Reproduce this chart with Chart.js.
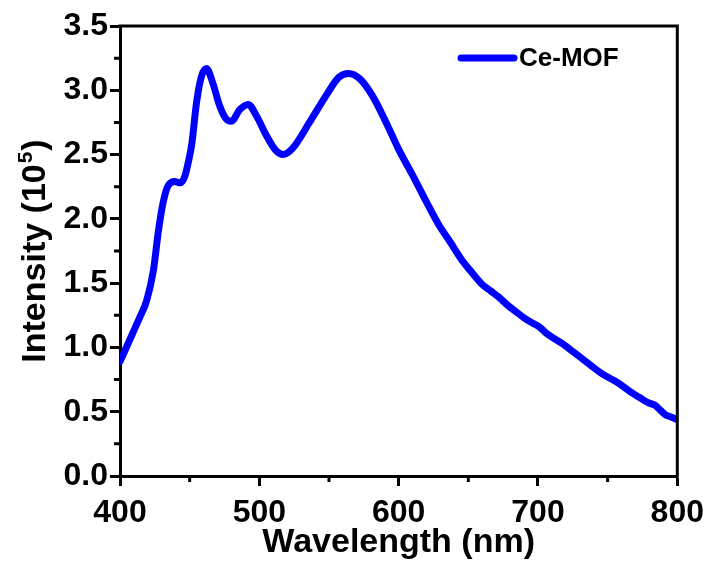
<!DOCTYPE html>
<html>
<head>
<meta charset="utf-8">
<script src="https://cdn.jsdelivr.net/npm/chart.js@4.4.1/dist/chart.umd.min.js"></script>
<style>
  html, body { margin: 0; padding: 0; background: #fff; }
  #c { display: block; }
</style>
</head>
<body>
<canvas id="c" width="712" height="561"></canvas>
<script>
// ---- data ----
const seriesLabel = 'Ce-MOF';
const wavelength = [400, 409.5, 414, 419, 424, 427.5, 431, 434.6, 439.4, 443, 446.5, 449, 451.5, 455, 458.5, 462, 466.5, 471.5, 476, 480, 486, 492, 498, 505, 512, 517, 524, 536, 548, 557, 564, 572, 581, 591, 600, 610, 620, 629, 637, 646, 652, 660, 666, 672, 678, 684, 690, 696, 701, 706, 710, 716, 720, 726, 732, 738, 744, 750, 755, 762, 767, 773, 779, 784, 788, 791, 795, 800];
const intensity  = [0.89, 1.12, 1.23, 1.36, 1.60, 1.90, 2.13, 2.26, 2.29, 2.28, 2.33, 2.44, 2.58, 2.91, 3.11, 3.17, 3.06, 2.88, 2.78, 2.76, 2.85, 2.89, 2.80, 2.65, 2.53, 2.50, 2.55, 2.75, 2.96, 3.10, 3.13, 3.09, 2.96, 2.75, 2.54, 2.34, 2.13, 1.95, 1.82, 1.67, 1.59, 1.49, 1.44, 1.39, 1.33, 1.28, 1.23, 1.19, 1.16, 1.11, 1.08, 1.04, 1.01, 0.96, 0.91, 0.86, 0.81, 0.77, 0.74, 0.69, 0.65, 0.61, 0.57, 0.55, 0.51, 0.48, 0.46, 0.44];
const xTickValues = [400, 500, 600, 700, 800];
const yTickValues = [0.0, 0.5, 1.0, 1.5, 2.0, 2.5, 3.0, 3.5];
const xMinorValues = [450, 550, 650, 750];
const yMinorValues = [0.25, 0.75, 1.25, 1.75, 2.25, 2.75, 3.25];
const xTitle = 'Wavelength (nm)';
const yTitleMain = 'Intensity (10';
const yTitleSup = '5';
const yTitleEnd = ')';

const FONT = '"Liberation Sans", Arial, Helvetica, sans-serif';
const points = wavelength.map((w, i) => ({ x: w, y: intensity[i] }));

const decor = {
  id: 'decor',
  afterDraw(chart) {
    const { ctx, chartArea: a, scales: { x, y } } = chart;
    ctx.save();
    // frame top + right
    ctx.strokeStyle = '#000';
    ctx.lineWidth = 3;
    ctx.beginPath();
    ctx.moveTo(a.left - 1.5, a.top);
    ctx.lineTo(a.right, a.top);
    ctx.lineTo(a.right, a.bottom + 1.5);
    ctx.stroke();
    // minor ticks
    ctx.lineWidth = 3;
    ctx.beginPath();
    xMinorValues.forEach(v => {
      const px = x.getPixelForValue(v);
      ctx.moveTo(px, a.bottom);
      ctx.lineTo(px, a.bottom + 6);
    });
    yMinorValues.forEach(v => {
      const py = y.getPixelForValue(v);
      ctx.moveTo(a.left, py);
      ctx.lineTo(a.left - 6, py);
    });
    ctx.stroke();
    // x title
    ctx.fillStyle = '#000';
    ctx.font = 'bold 34px ' + FONT;
    ctx.textAlign = 'center';
    ctx.textBaseline = 'alphabetic';
    ctx.fillText(xTitle, (a.left + a.right) / 2, 552);
    // y title with superscript
    ctx.save();
    ctx.translate(45, (a.top + a.bottom) / 2);
    ctx.rotate(-Math.PI / 2);
    const mainFont = 'bold 34px ' + FONT;
    const supFont = 'bold 21px ' + FONT;
    ctx.font = mainFont;
    const w1 = ctx.measureText(yTitleMain).width;
    const w3 = ctx.measureText(yTitleEnd).width;
    ctx.font = supFont;
    const w2 = ctx.measureText(yTitleSup).width;
    const total = w1 + w2 + w3 + 2;
    let sx = -total / 2;
    ctx.textAlign = 'left';
    ctx.font = mainFont;
    ctx.fillText(yTitleMain, sx, 0);
    sx += w1 + 1;
    ctx.font = supFont;
    ctx.fillText(yTitleSup, sx, -13);
    sx += w2 + 1;
    ctx.font = mainFont;
    ctx.fillText(yTitleEnd, sx, 0);
    ctx.restore();
    // legend
    const ds = chart.data.datasets[0];
    ctx.strokeStyle = ds.borderColor;
    ctx.lineWidth = 7;
    ctx.lineCap = 'round';
    ctx.beginPath();
    ctx.moveTo(461, 58);
    ctx.lineTo(514, 58);
    ctx.stroke();
    ctx.fillStyle = '#000';
    ctx.font = 'bold 26px ' + FONT;
    ctx.textAlign = 'left';
    ctx.textBaseline = 'middle';
    ctx.fillText(ds.label, 519, 59);
    ctx.restore();
  }
};

new Chart(document.getElementById('c'), {
  type: 'line',
  data: {
    datasets: [{
      label: seriesLabel,
      data: points,
      borderColor: '#0000ff',
      backgroundColor: '#0000ff',
      borderWidth: 7,
      pointRadius: 0,
      fill: false,
      tension: 0.4,
      cubicInterpolationMode: 'monotone',
      borderCapStyle: 'round',
      borderJoinStyle: 'round'
    }]
  },
  options: {
    responsive: false,
    animation: false,
    events: [],
    layout: { padding: { top: 26, right: 34, left: 0, bottom: 0 } },
    plugins: { legend: { display: false }, tooltip: { enabled: false } },
    scales: {
      x: {
        type: 'linear',
        min: 400, max: 800,
        afterBuildTicks: s => { s.ticks = xTickValues.map(v => ({ value: v })); },
        afterFit: s => { s.height = 85; },
        ticks: { color: '#000', font: { family: FONT, size: 32, weight: 'bold' }, padding: 8, maxRotation: 0, autoSkip: false },
        grid: { drawOnChartArea: false, color: '#000', tickLength: 10, tickWidth: 3 },
        border: { color: '#000', width: 3 }
      },
      y: {
        min: 0, max: 3.5,
        afterBuildTicks: s => { s.ticks = yTickValues.map(v => ({ value: v })); },
        afterFit: s => { s.width = 120; },
        ticks: { color: '#000', font: { family: FONT, size: 32, weight: 'bold' }, padding: 2, autoSkip: false,
                 callback: v => Number(v).toFixed(1) },
        grid: { drawOnChartArea: false, color: '#000', tickLength: 10, tickWidth: 3 },
        border: { color: '#000', width: 3 }
      }
    }
  },
  plugins: [decor]
});
</script>
</body>
</html>
